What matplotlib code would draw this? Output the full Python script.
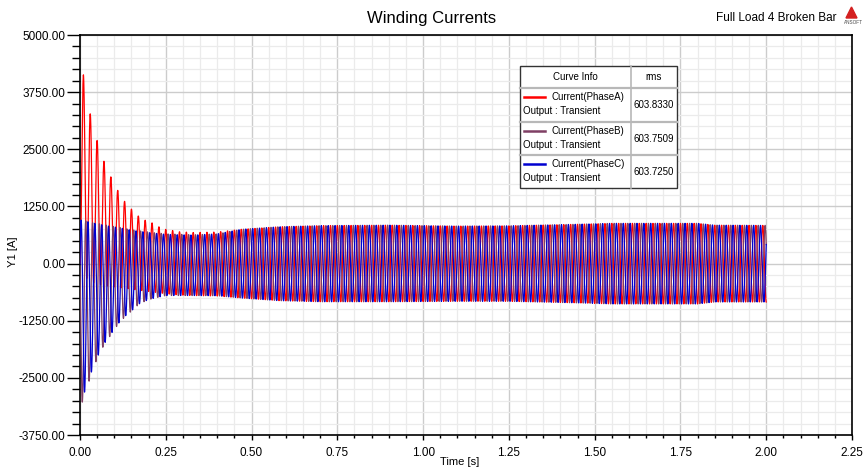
import numpy as np
import matplotlib
matplotlib.use("Agg")
import matplotlib.pyplot as plt
from matplotlib.ticker import MultipleLocator, FormatStrFormatter
from matplotlib.patches import Rectangle, Polygon
from matplotlib.lines import Line2D

plt.rcParams['font.family'] = ['Liberation Sans', 'DejaVu Sans']

# envelope knots (time in s, current in A)
t_knots = [0.0, 0.01, 0.03, 0.05, 0.07, 0.09, 0.11, 0.13, 0.15, 0.17, 0.19, 0.21, 0.23, 0.25,
           0.29, 0.33, 0.40, 0.47, 0.58, 0.70, 0.90, 1.10, 1.25, 1.45, 1.55, 1.80, 1.85, 2.00]

a_upper = [4128, 4128, 3270, 2688, 2236, 1895, 1600, 1360, 1190, 1040, 948, 890, 804, 748,
           696, 680, 690, 750, 805, 830, 840, 820, 826, 860, 880, 880, 840, 835]
a_lower = [0, -250, -400, -450, -480, -500, -520, -540, -560, -580, -600, -620, -640, -660,
           -690, -700, -710, -754, -812, -835, -835, -826, -826, -860, -883, -883, -840, -840]

b_upper = [950, 950, 900, 880, 850, 820, 800, 770, 740, 720, 700, 680, 665, 650,
           640, 630, 650, 750, 805, 830, 840, 820, 826, 860, 880, 880, 840, 835]
b_lower = [-3050, -3022, -2480, -2080, -1780, -1560, -1340, -1170, -1040, -900, -820, -770, -735, -700,
           -700, -700, -705, -754, -812, -835, -835, -826, -826, -860, -883, -883, -840, -840]

c_upper = [950, 950, 900, 870, 840, 810, 790, 760, 730, 710, 690, 670, 655, 640,
           630, 625, 650, 750, 805, 830, 840, 820, 826, 860, 880, 880, 840, 835]
c_lower = [-2900, -2885, -2435, -2050, -1760, -1543, -1326, -1159, -1036, -891, -819, -768, -732, -700,
           -700, -700, -705, -754, -812, -835, -835, -826, -826, -860, -883, -883, -840, -840]

freq = 50.0
phase_shift = [0.0, -2 * np.pi / 3, 2 * np.pi / 3]
names = ['Current(PhaseA)', 'Current(PhaseB)', 'Current(PhaseC)']
rms_values = ['603.8330', '603.7509', '603.7250']
colors = ['#ff0000', '#7f3f64', '#0000d0']

t = np.arange(0, 2.0 + 1e-9, 0.0002)


def wave(upper, lower, shift):
    up = np.interp(t, t_knots, upper)
    lo = np.interp(t, t_knots, lower)
    mid = (up + lo) / 2
    half = (up - lo) / 2
    return mid - half * np.cos(2 * np.pi * freq * t + shift)


currents = [wave(a_upper, a_lower, phase_shift[0]),
            wave(b_upper, b_lower, phase_shift[1]),
            wave(c_upper, c_lower, phase_shift[2])]

W, H = 864, 470
fig = plt.figure(figsize=(8.64, 4.70), dpi=100)


def fx(px):
    return px / W


def fy(py):
    return 1 - py / H


ax = fig.add_axes([fx(80), fy(435), fx(852) - fx(80), fy(35) - fy(435)])

for y, c in zip(currents, colors):
    ax.plot(t, y, color=c, lw=0.9, zorder=3)

ax.set_xlim(0, 2.25)
ax.set_ylim(-3750, 5000)
ax.xaxis.set_major_locator(MultipleLocator(0.25))
ax.xaxis.set_minor_locator(MultipleLocator(0.05))
ax.yaxis.set_major_locator(MultipleLocator(1250))
ax.yaxis.set_minor_locator(MultipleLocator(250))
ax.xaxis.set_major_formatter(FormatStrFormatter('%.2f'))
ax.yaxis.set_major_formatter(FormatStrFormatter('%.2f'))
ax.grid(which='major', color='#cccccc', lw=1.0, zorder=0)
ax.grid(which='minor', color='#ebebeb', lw=0.9, zorder=0)
ax.set_axisbelow(True)
ax.tick_params(axis='y', which='major', length=9.5, width=1, labelsize=8.5, pad=1)
ax.tick_params(axis='y', which='minor', length=6, width=1)
ax.tick_params(axis='x', which='major', length=3.5, width=1, labelsize=8.5, pad=5)
ax.tick_params(axis='x', which='minor', length=2.5, width=1)
for s in ax.spines.values():
    s.set_color('black')
    s.set_linewidth(1.2)

fig.text(fx(432), fy(18), 'Winding Currents', ha='center', va='center', fontsize=12)
fig.text(fx(776), fy(18), 'Full Load 4 Broken Bar', ha='center', va='center', fontsize=8.5)
fig.text(fx(13), fy(252), 'Y1 [A]', ha='center', va='center', rotation=90, fontsize=8)
fig.text(fx(460), fy(462), 'Time [s]', ha='center', va='center', fontsize=8)

# small logo
fig.add_artist(Polygon([(fx(846), fy(18)), (fx(857), fy(18)), (fx(851.5), fy(7))],
                       closed=True, color='#d42020', transform=fig.transFigure))
fig.text(fx(844), fy(23), 'ANSOFT', ha='left', va='center', fontsize=3.3, color='#444444')

# legend table
tl, tr, tt, tb, tc = 520, 677, 66, 188, 631
row_tops = [88, 122, 155]
fig.add_artist(Rectangle((fx(tl), fy(tb)), fx(tr) - fx(tl), fy(tt) - fy(tb),
                         facecolor='white', edgecolor='#333333', lw=1.0,
                         transform=fig.transFigure, zorder=5))
for ry in row_tops:
    fig.add_artist(Line2D([fx(tl), fx(tr)], [fy(ry), fy(ry)], color='#b8b8b8', lw=1.6,
                          transform=fig.transFigure, zorder=6))
fig.add_artist(Line2D([fx(tc), fx(tc)], [fy(tt), fy(tb)], color='#b8b8b8', lw=1.2,
                      transform=fig.transFigure, zorder=6))
fig.text(fx(575), fy(77), 'Curve Info', ha='center', va='center', fontsize=7, zorder=7)
fig.text(fx(654), fy(77), 'rms', ha='center', va='center', fontsize=7, zorder=7)
for ry, name, val, c in zip(row_tops, names, rms_values, colors):
    fig.add_artist(Line2D([fx(524), fx(545)], [fy(ry + 9), fy(ry + 9)], color=c, lw=1.8,
                          transform=fig.transFigure, zorder=7))
    fig.text(fx(551), fy(ry + 9), name, ha='left', va='center', fontsize=7, zorder=7)
    fig.text(fx(523), fy(ry + 23), 'Output : Transient', ha='left', va='center', fontsize=7, zorder=7)
    fig.text(fx(654), fy(ry + 17), val, ha='center', va='center', fontsize=7, zorder=7)

fig.savefig('out.png', dpi=100)
